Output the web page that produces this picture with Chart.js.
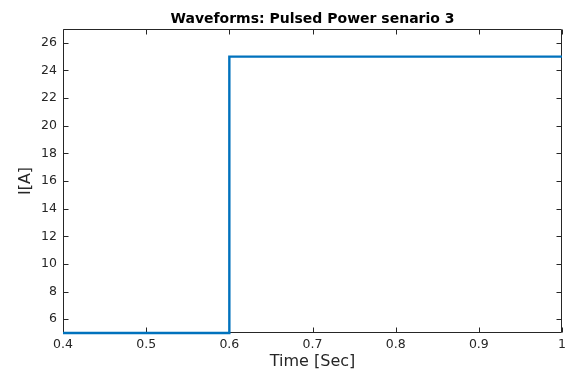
<!DOCTYPE html>
<html>
<head>
<meta charset="utf-8">
<script src="https://cdn.jsdelivr.net/npm/chart.js@4/dist/chart.umd.min.js"></script>
<style>
  body { margin: 0; background: #fff; }
  #wrap { width: 570px; height: 372px; }
</style>
</head>
<body>
<div id="wrap"><canvas id="myChart" width="570" height="372"></canvas></div>
<script>
// step waveform, current in A over time in s
var time = [0.4, 0.6, 0.6, 1.0];
var current = [5, 5, 25, 25];
var xTicks = [0.4, 0.5, 0.6, 0.7, 0.8, 0.9, 1.0];
var yTicks = [6, 8, 10, 12, 14, 16, 18, 20, 22, 24, 26];

var axisColor = '#262626';
var fontFamily = '"DejaVu Sans", Verdana, sans-serif';

// matlab style box with inward ticks
var boxPlugin = {
  id: 'matlabBox',
  beforeDatasetsDraw: function(chart) {
    var ctx = chart.ctx;
    var a = chart.chartArea;
    var xs = chart.scales.x, ys = chart.scales.y;
    var L = Math.round(a.left) + 0.5, R = Math.round(a.right) - 0.5;
    var T = Math.round(a.top) + 0.5, B = Math.round(a.bottom) - 0.5;
    var len = 5;
    ctx.save();
    ctx.strokeStyle = axisColor;
    ctx.lineWidth = 1;
    ctx.beginPath();
    ctx.rect(L, T, R - L, B - T);
    xTicks.forEach(function(v) {
      var px = Math.round(xs.getPixelForValue(v)) + 0.5;
      ctx.moveTo(px, B); ctx.lineTo(px, B - len);
      ctx.moveTo(px, T); ctx.lineTo(px, T + len);
    });
    yTicks.forEach(function(v) {
      var py = Math.round(ys.getPixelForValue(v)) + 0.5;
      ctx.moveTo(L, py); ctx.lineTo(L + len, py);
      ctx.moveTo(R, py); ctx.lineTo(R - len, py);
    });
    ctx.stroke();
    ctx.restore();
  }
};

var ctx = document.getElementById('myChart').getContext('2d');
var myChart = new Chart(ctx, {
  type: 'line',
  data: {
    datasets: [{
      data: time.map(function(t, i) { return { x: t, y: current[i] }; }),
      borderColor: 'rgb(0, 114, 189)',
      borderWidth: 2.4,
      pointRadius: 0,
      fill: false,
      tension: 0,
      clip: 4
    }]
  },
  options: {
    responsive: false,
    animation: false,
    layout: { padding: { left: 0, right: 5, top: 0, bottom: 0 } },
    plugins: {
      legend: { display: false },
      tooltip: { enabled: false },
      title: {
        display: true,
        text: 'Waveforms: Pulsed Power senario 3',
        fullSize: false,
        color: '#000',
        font: { family: fontFamily, size: 14, weight: 'bold', lineHeight: 1.2 },
        padding: { top: 10.6, bottom: 1.6 }
      }
    },
    scales: {
      x: {
        type: 'linear',
        min: 0.4,
        max: 1.0,
        afterBuildTicks: function(s) { s.ticks = xTicks.map(function(v) { return { value: v }; }); },
        afterFit: function(s) { s.height = 39; },
        grid: { display: false, drawTicks: false },
        border: { display: false },
        ticks: {
          color: axisColor,
          padding: 4,
          maxRotation: 0,
          font: { family: fontFamily, size: 12.5 },
          callback: function(v) { return String(Math.round(v * 10) / 10); }
        },
        title: {
          display: true,
          text: 'Time [Sec]',
          color: axisColor,
          font: { family: fontFamily, size: 16 },
          padding: { top: 0, bottom: 0.4 }
        }
      },
      y: {
        min: 5,
        max: 27,
        afterBuildTicks: function(s) { s.ticks = yTicks.map(function(v) { return { value: v }; }); },
        afterFit: function(s) { s.width = 63; },
        grid: { display: false, drawTicks: false },
        border: { display: false },
        ticks: {
          color: axisColor,
          padding: 6,
          font: { family: fontFamily, size: 12.5 }
        },
        title: {
          display: true,
          text: 'I[A]',
          color: axisColor,
          font: { family: fontFamily, size: 16 },
          padding: { top: 16, bottom: 0 }
        }
      }
    }
  },
  plugins: [boxPlugin]
});
</script>
</body>
</html>
